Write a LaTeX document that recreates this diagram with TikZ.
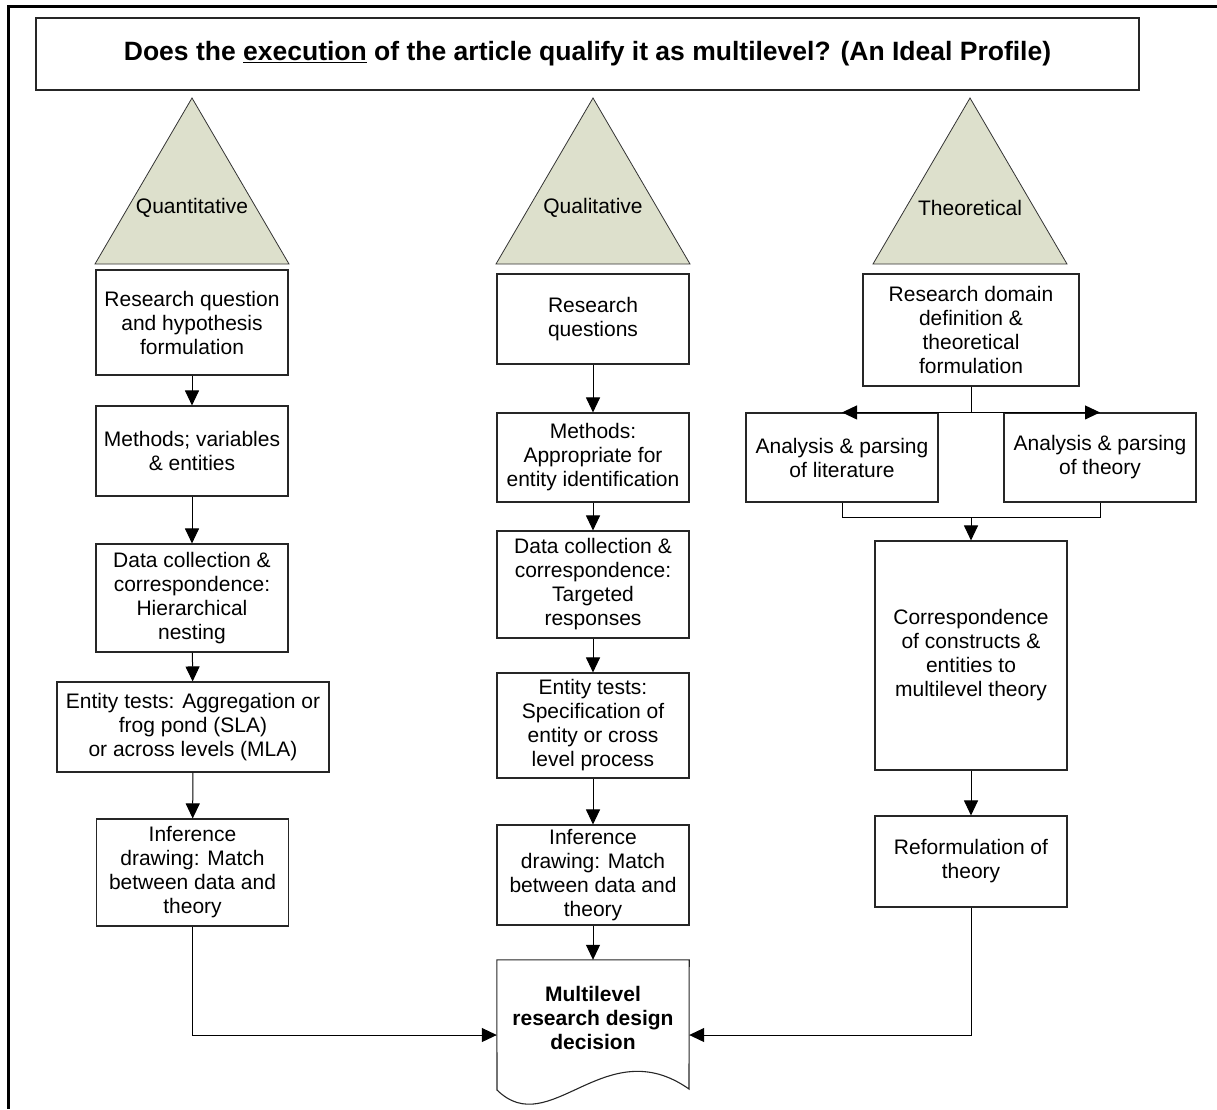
\documentclass[tikz,border=0pt]{standalone}
\usepackage{fontspec}
\setmainfont{Liberation Sans}
\usepackage{tikz}
\usetikzlibrary{arrows.meta}
\usepackage{xcolor}
\definecolor{trifill}{RGB}{221,224,204}

\begin{document}
\begin{tikzpicture}[x=1pt,y=-1pt,
    >={Triangle[length=15pt,width=14pt]},
    box/.style={draw=black!85,line width=1.1pt,fill=white,align=center,inner sep=0pt,
        minimum width=192pt,font=\fontsize{21}{24}\selectfont},
    tritext/.style={font=\fontsize{21}{24}\selectfont},
    link/.style={line width=1pt,->}]
    \useasboundingbox (0,0) rectangle (1217,1109);
    \draw[line width=3pt] (1217,6) -- (8.5,6) -- (8.5,1109);
    \node[draw=black!85,line width=1.2pt,minimum width=1103pt,minimum height=72pt,
        font=\fontsize{26.5}{30}\selectfont\bfseries] (title) at (587.5,54)
        {Does the \underline{execution} of the article qualify it as multilevel? (An Ideal Profile)};
    \foreach \cx/\lbl/\nm in {192/Quantitative/quant,593/Qualitative/qual,970/Theoretical/theo}{
        \filldraw[fill=trifill,draw=black!80,line width=0.8pt] (\cx-97,264) -- (\cx,98) -- (\cx+97,264) -- cycle;
        \node[tritext] (\nm) at (\cx,208) {\lbl};
    }
    % quantitative
    \node[box,minimum height=105pt] (q1) at (192,322.5) {Research question\\and hypothesis\\formulation};
    \node[box,minimum height=90pt] (q2) at (192,451) {Methods; variables\\\& entities};
    \node[box,minimum height=108pt] (q3) at (192,598) {Data collection \&\\correspondence:\\Hierarchical\\nesting};
    \node[box,minimum width=272pt,minimum height=90pt] (q4) at (193,727) {Entity tests: Aggregation or\\frog pond (SLA)\\or across levels (MLA)};
    \node[box,minimum height=107pt] (q5) at (192.5,872.5) {Inference\\drawing: Match\\between data and\\theory};
    % qualitative
    \node[box,minimum height=90pt] (m1) at (593,319) {Research\\questions};
    \node[box,minimum height=89pt] (m2) at (593,457.5) {Methods:\\Appropriate for\\entity identification};
    \node[box,minimum height=107pt] (m3) at (593,584.5) {Data collection \&\\correspondence:\\Targeted\\responses};
    \node[box,minimum height=105pt] (m4) at (593,725.5) {Entity tests:\\Specification of\\entity or cross\\level process};
    \node[box,minimum height=100pt] (m5) at (593,875) {Inference\\drawing: Match\\between data and\\theory};
    \node[align=center,inner sep=0pt,minimum width=192pt,minimum height=116pt,
        font=\fontsize{21}{24}\selectfont\bfseries] (decision) at (593,1018) {Multilevel\\research design\\decision};
    \draw[draw=black!85,line width=1.1pt] (decision.north west) -- (decision.north east) -- (689,1089)
        .. controls (605,1030) and (550,1142) .. (497,1090) -- cycle;
    % theoretical
    \node[box,minimum width=216pt,minimum height=112pt] (t1) at (971,330) {Research domain\\definition \&\\theoretical\\formulation};
    \node[box,minimum height=89pt] (tl) at (842,457.5) {Analysis \& parsing\\of literature};
    \node[box,minimum height=89pt] (tr) at (1100,457.5) {Analysis \& parsing\\of theory};
    \node[box,minimum height=229pt] (t2) at (971,655.5) {Correspondence\\of constructs \&\\entities to\\multilevel theory};
    \node[box,minimum height=91pt] (t3) at (971,861.5) {Reformulation of\\theory};
    \coordinate (join) at (971,517);

    \draw[link] (q1) -- (q2);
    \draw[link] (q2) -- (q3);
    \draw[link] (q3) -- (q4);
    \draw[link] (q4) -- (q5);
    \draw[link] (m1) -- (m2);
    \draw[link] (m2) -- (m3);
    \draw[link] (m3) -- (m4);
    \draw[link] (m4) -- (m5);
    \draw[link] (m5) -- (decision);
    \draw[link] (t1.south) |- (tl.north);
    \draw[link] (t1.south) |- (tr.north);
    \draw[line width=1pt] (tl.south) |- (join) -| (tr.south);
    \draw[link] (join) -- (t2);
    \draw[link] (t2) -- (t3);
    \draw[link] (q5.south) |- ([yshift=-17pt]decision.west);
    \draw[link] (t3.south) |- ([yshift=-17pt]decision.east);
\end{tikzpicture}
\end{document}
